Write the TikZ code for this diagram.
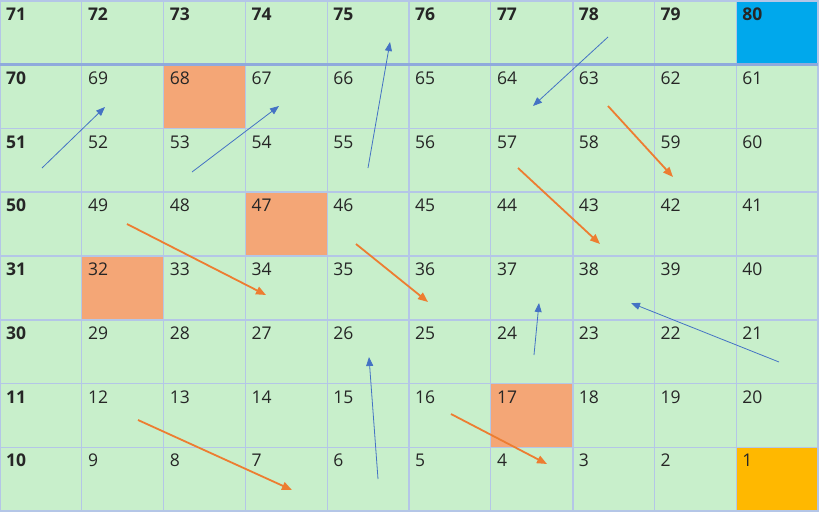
\documentclass[tikz,border=0pt]{standalone}
\usepackage{fontspec}
\setmainfont{Open Sans}
\usepackage{tikz}
\usetikzlibrary{calc, arrows.meta}
\definecolor{cellgreen}{RGB}{200,239,203}
\definecolor{gridblue}{RGB}{180,198,231}
\definecolor{headblue}{RGB}{143,170,220}
\definecolor{hole}{RGB}{244,166,118}
\definecolor{goal}{RGB}{0,168,236}
\definecolor{start}{RGB}{255,184,0}
\definecolor{upblue}{RGB}{68,114,196}
\definecolor{downorange}{RGB}{237,125,49}
\tikzset{num/.style={anchor=base west, inner sep=0pt, text=black!85},
gridline/.style={draw=gridblue, line width=1.2pt},
bluearr/.style={draw=upblue, line width=0.8pt, -{Triangle[length=9pt,width=7pt]}},
orangearr/.style={draw=downorange, line width=1.8pt, -{Triangle[length=10pt,width=8pt]}}}

\begin{document}
\begin{tikzpicture}[x=1pt, y=-1pt]
        \useasboundingbox (0,0) rectangle (820,512);
        \fill[cellgreen] (0,1) rectangle (818,511);
        \fill[hole] (163.6,64.75) rectangle (245.4,128.5);
        \fill[hole] (245.4,192.25) rectangle (327.2,256);
        \fill[hole] (81.8,256) rectangle (163.6,319.75);
        \fill[hole] (490.8,383.5) rectangle (572.6,447.25);
        \fill[goal] (736.2,1) rectangle (818,64.75);
        \fill[start] (736.2,447.25) rectangle (818,511);
        \foreach \c in {1,...,9}
            \draw[gridline] (\c*81.8,1) -- (\c*81.8,511);
        \foreach \r in {2,...,7}
            \draw[gridline] (0,1+\r*63.75) -- (818,1+\r*63.75);
        \draw[gridline, line width=1.8pt] (572.6,1) -- (572.6,511);
        \draw[gridline, line width=1.8pt] (0,192.25) -- (818,192.25);
        \draw[gridline, line width=1.8pt] (0,319.75) -- (818,319.75);
        \draw[gridline, line width=1.8pt] (0,1) rectangle (818,511);
        \draw[draw=headblue, line width=2.6pt] (0,64.75) -- (818,64.75);
        \foreach \r in {0,...,7}
        \foreach \c in {0,...,9}{
            \pgfmathtruncatemacro\k{mod(7-\r,2)==0 ? 10*(7-\r)+10-\c : 10*(7-\r)+1+\c}
            \ifnum\c=0 \def\fw{\bfseries}\else\ifnum\r=0 \def\fw{\bfseries}\else\def\fw{}\fi\fi
            \node[num, font=\fontsize{17.5}{20}\selectfont\fw] (n\k) at (\c*81.8+6,1+\r*63.75+19.5) {\k};
        }
        \coordinate (from51) at (42,168);  \coordinate (to69) at (105,107);
        \coordinate (from53) at (192,172); \coordinate (to67) at (279,106);
        \coordinate (from55) at (368,168); \coordinate (to75) at (390,42);
        \coordinate (from78) at (608,37);  \coordinate (to64) at (533,106);
        \coordinate (from21) at (779,362); \coordinate (to38) at (631,303);
        \coordinate (from24) at (534,355); \coordinate (to37) at (539,303);
        \coordinate (from6) at (378,479);  \coordinate (to26) at (369,357);
        \coordinate (from63) at (608,106); \coordinate (to59) at (673,177);
        \coordinate (from57) at (518,168); \coordinate (to43) at (600,244);
        \coordinate (from49) at (127,224); \coordinate (to34) at (266,295);
        \coordinate (from46) at (356,244); \coordinate (to36) at (428,302);
        \coordinate (from12) at (138,420); \coordinate (to7) at (292,490);
        \coordinate (from16) at (451,414); \coordinate (to4) at (547,464);
        \draw[bluearr] (from51) -- (to69);
        \draw[bluearr] (from53) -- (to67);
        \draw[bluearr] (from55) -- (to75);
        \draw[bluearr] (from78) -- (to64);
        \draw[bluearr] (from21) -- (to38);
        \draw[bluearr] (from24) -- (to37);
        \draw[bluearr] (from6) -- (to26);
        \draw[orangearr] (from63) -- (to59);
        \draw[orangearr] (from57) -- (to43);
        \draw[orangearr] (from49) -- (to34);
        \draw[orangearr] (from46) -- (to36);
        \draw[orangearr] (from12) -- (to7);
        \draw[orangearr] (from16) -- (to4);
\end{tikzpicture}
\end{document}
